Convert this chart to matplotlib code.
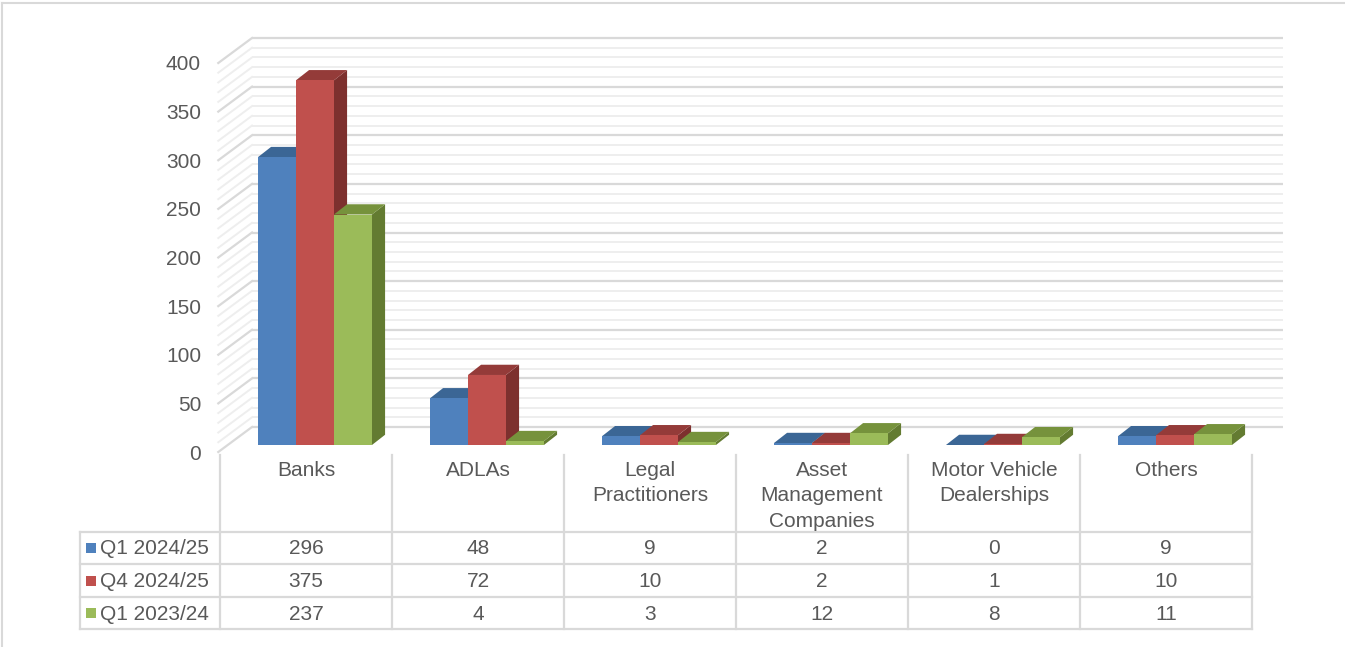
import matplotlib
matplotlib.use("Agg")
import matplotlib.pyplot as plt
from matplotlib.patches import Polygon, Rectangle
from matplotlib.lines import Line2D
from matplotlib.transforms import Affine2D

# ---------------- data ----------------
categories = ["Banks", "ADLAs", "Legal\nPractitioners", "Asset\nManagement\nCompanies",
              "Motor Vehicle\nDealerships", "Others"]
series_names = ["Q1 2024/25", "Q4 2024/25", "Q1 2023/24"]
q1_2024 = [296, 48, 9, 2, 0, 9]
q4_2024 = [375, 72, 10, 2, 1, 10]
q1_2023 = [237, 4, 3, 12, 8, 11]
series_values = [q1_2024, q4_2024, q1_2023]
y_ticks = [0, 50, 100, 150, 200, 250, 300, 350, 400]

front_cols = ["#4F81BD", "#C0504D", "#9BBB59"]
top_cols = ["#3B6695", "#943B39", "#76923C"]
side_cols = ["#2F5279", "#7D302E", "#637B31"]
TXT = "#595959"
GRID_MAJ = "#D9D9D9"
GRID_MIN = "#EEEEEE"
TBL = "#D9D9D9"

W, H = 1345, 647
plt.rcParams['font.family'] = ['Liberation Sans', 'DejaVu Sans']
fig = plt.figure(figsize=(W / 100, H / 100), dpi=100)
pix = Affine2D().scale(1.0 / W, -1.0 / H).translate(0, 1) + fig.transFigure

# chart border (cropped)
fig.add_artist(Line2D([2, 2], [3, H + 5], transform=pix, color="#D9D9D9", lw=1.5))
fig.add_artist(Line2D([2, W + 5], [3, 3], transform=pix, color="#D9D9D9", lw=1.5))

# ---------------- plot area ----------------
k = (452 - 63) / 400.0           # px per unit
col_w = 172.0
x0_px, y0_px = 220, 452
ncat = len(categories)
top_px = 33
ax = fig.add_axes([x0_px / W, (H - y0_px) / H, ncat * col_w / W, (y0_px - top_px) / H])
ax.set_xlim(0, ncat)
ax.set_ylim(0, (y0_px - top_px) / k)
ax.axis("off")

DX = 32.0 / col_w
DY = 25.0 / k

# walls / gridlines
for v in range(0, 401, 10):
    major = (v % 50 == 0)
    c = GRID_MAJ if major else GRID_MIN
    lw = 1.6 if major else 1.4
    ax.plot([DX, ncat + DX * 0.97], [v + DY, v + DY], color=c, lw=lw, zorder=1,
            solid_capstyle="butt", clip_on=False)
    ax.plot([-0.01, DX], [v, v + DY], color=c, lw=lw, zorder=1, clip_on=False)

for t in y_ticks:
    ax.text(-0.11, t, str(t), ha="right", va="center_baseline", fontsize=15, color=TXT,
            clip_on=False)

# bars
bw = 38.0 / col_w
f1, f2 = 0.28, 0.69
for i in range(ncat):
    c = i + 0.5
    for s, vals in enumerate(series_values):
        h = vals[i]
        xl = c - 1.5 * bw + s * bw + f1 * DX
        base = f1 * DY
        top = base + h
        ddx = (f2 - f1) * DX
        ddy = (f2 - f1) * DY
        side = Polygon([(xl + bw, base), (xl + bw, top), (xl + bw + ddx, top + ddy),
                        (xl + bw + ddx, base + ddy)], closed=True, facecolor=side_cols[s],
                       edgecolor="none", zorder=3, clip_on=False)
        topf = Polygon([(xl, top), (xl + bw, top), (xl + bw + ddx, top + ddy),
                        (xl + ddx, top + ddy)], closed=True, facecolor=top_cols[s],
                       edgecolor="none", zorder=3, clip_on=False)
        front = Rectangle((xl, base), bw, h, facecolor=front_cols[s], edgecolor="none",
                          zorder=3, clip_on=False)
        ax.add_patch(side)
        ax.add_patch(topf)
        ax.add_patch(front)

# ---------------- data table ----------------
col_edges = [x0_px + j * col_w for j in range(ncat + 1)]
leg_left = 80
row_edges = [532, 564, 597, 629]
lkw = dict(transform=pix, color=TBL, lw=1.6)
for xe in col_edges:
    fig.add_artist(Line2D([xe, xe], [455, row_edges[-1]], **lkw))
fig.add_artist(Line2D([leg_left, leg_left], [row_edges[0], row_edges[-1]], **lkw))
for ye in row_edges:
    fig.add_artist(Line2D([leg_left, col_edges[-1]], [ye, ye], **lkw))

for j, cat in enumerate(categories):
    xc = x0_px + (j + 0.5) * col_w
    fig.text(xc / W, 1 - 461 / H, cat, ha="center", va="top", fontsize=15, color=TXT,
             linespacing=1.42)

for s, name in enumerate(series_names):
    yc = (row_edges[s] + row_edges[s + 1]) / 2.0
    fig.add_artist(Rectangle((86, yc - 5), 10, 10, transform=pix, facecolor=front_cols[s],
                             edgecolor="none"))
    fig.text(100 / W, 1 - (yc + 1) / H, name, ha="left", va="center", fontsize=15, color=TXT)
    for j in range(ncat):
        xc = x0_px + (j + 0.5) * col_w
        fig.text(xc / W, 1 - (yc + 1) / H, str(series_values[s][j]), ha="center",
                 va="center", fontsize=15, color=TXT)

fig.savefig("out.png", dpi=100)
